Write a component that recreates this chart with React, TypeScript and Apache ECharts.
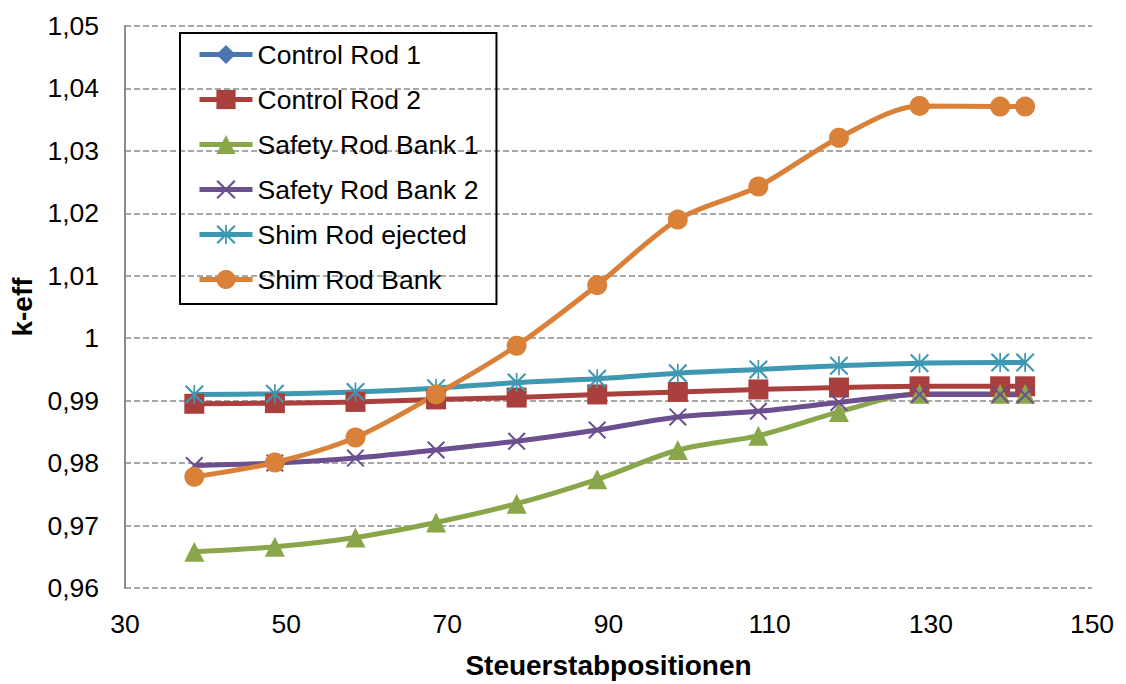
import React, { useEffect, useRef } from "react";
import * as echarts from "echarts";

// Control rod positions (x) and k-eff values per rod configuration
const positions = [38.6, 48.6, 58.6, 68.6, 78.6, 88.6, 98.6, 108.6, 118.6, 128.6, 138.6, 141.7];

const controlRod1: number[] = [];
const controlRod2 = [0.9895, 0.9896, 0.9898, 0.9902, 0.9905, 0.991, 0.9914, 0.9918, 0.9921, 0.9923, 0.9923, 0.9923];
const safetyRodBank1 = [0.9658, 0.9666, 0.9681, 0.9705, 0.9735, 0.9774, 0.9821, 0.9844, 0.9882, 0.9911, 0.9911, 0.9911];
const safetyRodBank2 = [0.9796, 0.98, 0.9808, 0.9821, 0.9835, 0.9853, 0.9874, 0.9883, 0.9897, 0.991, 0.991, 0.9909];
const shimRodEjected = [0.991, 0.9911, 0.9914, 0.992, 0.9929, 0.9935, 0.9944, 0.995, 0.9956, 0.996, 0.9961, 0.9961];
const shimRodBank = [0.9778, 0.9801, 0.9841, 0.991, 0.9988, 1.0085, 1.019, 1.0243, 1.0321, 1.0372, 1.0371, 1.0371];

const seriesNames = [
  "Control Rod 1",
  "Control Rod 2",
  "Safety Rod Bank 1",
  "Safety Rod Bank 2",
  "Shim Rod ejected",
  "Shim Rod Bank",
];

const FONT = "'Liberation Sans', Arial, sans-serif";

// Filled outlines for the cross and asterisk markers
const CROSS =
  "path://M0,1.6L1.6,0L20,18.4L18.4,20ZM18.4,0L20,1.6L1.6,20L0,18.4Z";
const STAR =
  "path://M0,1.6L1.6,0L20,18.4L18.4,20ZM18.4,0L20,1.6L1.6,20L0,18.4ZM9.1,0L10.9,0L10.9,20L9.1,20Z";

function pairs(ys: number[]) {
  return ys.map((y, i) => [positions[i], y]);
}

export default function App() {
  const ref = useRef<HTMLDivElement>(null);

  useEffect(() => {
    document.body.style.margin = "0";
    const chart = echarts.init(ref.current!, undefined, { renderer: "svg" });

    const mk = (
      name: string,
      ys: number[],
      color: string,
      symbol: string,
      symbolSize: number
    ) => ({
      name,
      type: "line",
      data: pairs(ys),
      smooth: 0.3,
      symbol,
      symbolSize,
      showAllSymbol: true,
      lineStyle: { color, width: 5 },
      itemStyle: { color },
      emphasis: { disabled: true },
    });

    chart.setOption({
      animation: false,
      backgroundColor: "#ffffff",
      textStyle: { fontFamily: FONT },
      grid: { left: 125, right: 34, top: 26, bottom: 91 },
      legend: {
        orient: "vertical",
        left: 180,
        top: 33,
        padding: [8, 18, 11, 17],
        borderColor: "#000000",
        borderWidth: 2,
        itemWidth: 53,
        itemHeight: 24,
        itemGap: 18,
        lineStyle: { width: 5 },
        data: seriesNames,
        textStyle: { fontSize: 26.5, lineHeight: 26, color: "#000", fontFamily: FONT },
      },
      xAxis: {
        type: "value",
        min: 30,
        max: 150,
        interval: 20,
        name: "Steuerstabpositionen",
        nameLocation: "middle",
        nameGap: 63,
        nameTextStyle: { fontSize: 28, fontWeight: "bold", color: "#000", fontFamily: FONT },
        axisLine: { show: false, onZero: false },
        axisTick: { show: false },
        splitLine: { show: false },
        axisLabel: { fontSize: 26.5, color: "#000", margin: 22, fontFamily: FONT },
      },
      yAxis: {
        type: "value",
        min: 0.96,
        max: 1.05,
        interval: 0.01,
        name: "k-eff",
        nameLocation: "middle",
        nameGap: 86,
        nameTextStyle: { fontSize: 28, fontWeight: "bold", color: "#000", fontFamily: FONT },
        axisLine: { show: true, lineStyle: { color: "#8c8c8c", width: 2 } },
        axisTick: { show: false },
        splitLine: {
          show: true,
          lineStyle: { color: "#8c8c8c", width: 1.5, type: [6, 3] },
        },
        axisLabel: {
          fontSize: 26.5,
          color: "#000",
          margin: 26,
          fontFamily: FONT,
          formatter: (v: number) => String(+v.toFixed(2)).replace(".", ","),
        },
      },
      series: [
        mk(seriesNames[0], controlRod1, "#4a76b0", "diamond", 20),
        mk(seriesNames[1], controlRod2, "#a9403d", "rect", 20),
        mk(seriesNames[2], safetyRodBank1, "#8aa64a", "triangle", 20),
        mk(seriesNames[3], safetyRodBank2, "#6b4f8f", CROSS, 18),
        mk(seriesNames[4], shimRodEjected, "#3e98b2", STAR, 19),
        mk(seriesNames[5], shimRodBank, "#da8139", "circle", 20),
      ],
    });

    return () => chart.dispose();
  }, []);

  return <div ref={ref} style={{ width: 1126, height: 684 }} />;
}
